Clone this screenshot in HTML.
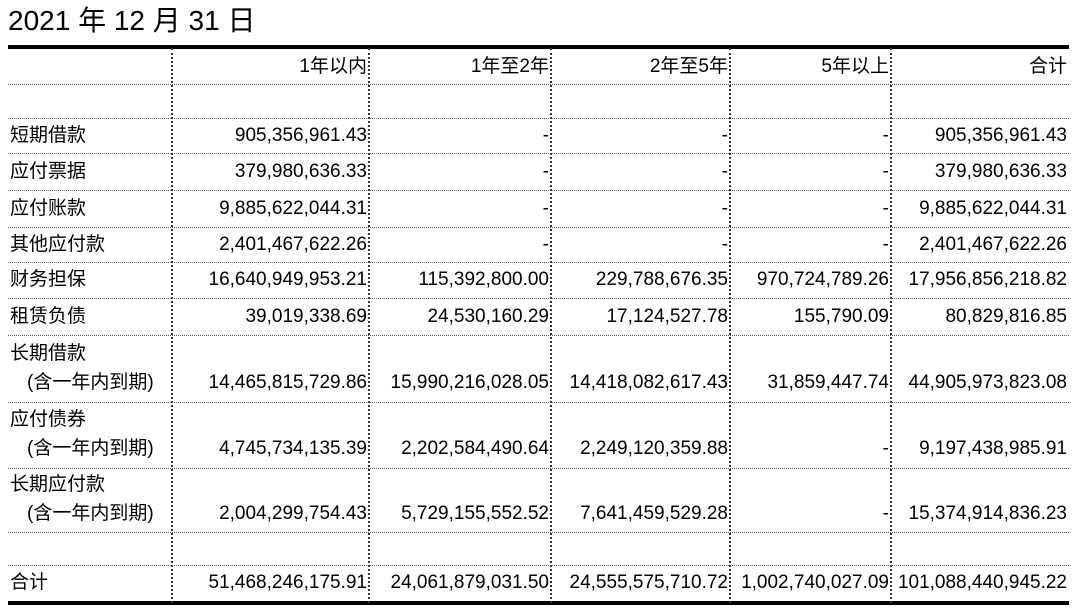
<!DOCTYPE html>
<html><head><meta charset="utf-8"><style>
body{margin:0;width:1080px;height:614px;background:#fff;position:relative;overflow:hidden;font-family:"Liberation Sans","Noto Sans CJK SC",sans-serif;color:#000}
.t{position:absolute;font-size:19px;line-height:22px;white-space:nowrap}
.r{text-align:right}
.h{position:absolute;left:8px;width:1061px;height:0;border-top:1px dotted #555}
.v{position:absolute;top:48px;height:555px;width:0;border-left:2px dotted #333}
</style></head><body>
<div class="t" style="left:8px;top:4px;font-size:28px;line-height:34px">2021 年 12 月 31 日</div>
<div style="position:absolute;left:8px;top:45px;width:1061px;height:4px;background:#000"></div>
<div style="position:absolute;left:8px;top:601px;width:1061px;height:4px;background:#000"></div>
<div class="v" style="left:171px"></div>
<div class="v" style="left:368px"></div>
<div class="v" style="left:550px"></div>
<div class="v" style="left:729px"></div>
<div class="v" style="left:890px"></div>
<div class="h" style="top:84px"></div>
<div class="h" style="top:118px"></div>
<div class="h" style="top:153px"></div>
<div class="h" style="top:190px"></div>
<div class="h" style="top:227px"></div>
<div class="h" style="top:262px"></div>
<div class="h" style="top:298px"></div>
<div class="h" style="top:335px"></div>
<div class="h" style="top:402px"></div>
<div class="h" style="top:468px"></div>
<div class="h" style="top:532px"></div>
<div class="h" style="top:565px"></div>
<div id="g"></div>
<script>
var cols=[[172,368],[370,550],[552,729],[731,890],[892,1068]];
var rows=[
[56,"",["1年以内","1年至2年","2年至5年","5年以上","合计"]],
[125,"短期借款",["905,356,961.43","-","-","-","905,356,961.43"]],
[161,"应付票据",["379,980,636.33","-","-","-","379,980,636.33"]],
[198,"应付账款",["9,885,622,044.31","-","-","-","9,885,622,044.31"]],
[234,"其他应付款",["2,401,467,622.26","-","-","-","2,401,467,622.26"]],
[269,"财务担保",["16,640,949,953.21","115,392,800.00","229,788,676.35","970,724,789.26","17,956,856,218.82"]],
[306,"租赁负债",["39,019,338.69","24,530,160.29","17,124,527.78","155,790.09","80,829,816.85"]],
[372,"(含一年内到期)",["14,465,815,729.86","15,990,216,028.05","14,418,082,617.43","31,859,447.74","44,905,973,823.08"]],
[438,"(含一年内到期)",["4,745,734,135.39","2,202,584,490.64","2,249,120,359.88","-","9,197,438,985.91"]],
[503,"(含一年内到期)",["2,004,299,754.43","5,729,155,552.52","7,641,459,529.28","-","15,374,914,836.23"]],
[572,"合计",["51,468,246,175.91","24,061,879,031.50","24,555,575,710.72","1,002,740,027.09","101,088,440,945.22"]]];
var h="";
rows.forEach(function(r){
 if(r[1]){var ind=r[1][0]=="("?27:10;h+='<div class="t" style="left:'+ind+'px;top:'+r[0]+'px">'+r[1]+'</div>';}
 r[2].forEach(function(v,i){h+='<div class="t r" style="left:'+cols[i][0]+'px;width:'+(cols[i][1]-cols[i][0]-1)+'px;top:'+r[0]+'px">'+v+'</div>';});
});
[[343,"长期借款"],[409,"应付债券"],[474,"长期应付款"]].forEach(function(x){h+='<div class="t" style="left:10px;top:'+x[0]+'px">'+x[1]+'</div>';});
document.getElementById("g").innerHTML=h;
</script>
</body></html>
